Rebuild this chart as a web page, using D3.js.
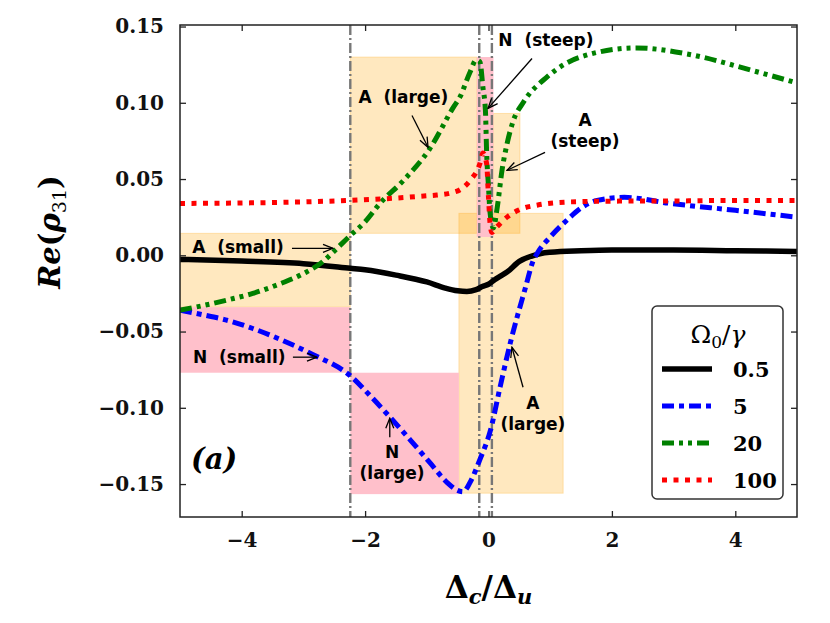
<!DOCTYPE html>
<html>
<head>
<meta charset="utf-8">
<script src="https://cdn.jsdelivr.net/npm/d3@7"></script>
<style>
  body { margin: 0; background: #fff; }
  svg { display: block; }
</style>
</head>
<body>
<div id="chart"></div>
<script>
// ---- data ----
const xTicks = [-4, -2, 0, 2, 4];
const yTicks = [-0.15, -0.10, -0.05, 0.00, 0.05, 0.10, 0.15];

const seriesNames = ["0.5", "5", "20", "100"];

const blackX = [-5, -4, -3, -2.24, -2, -1.5, -1, -0.7, -0.5, -0.35, -0.2, -0.1, 0, 0.1, 0.2, 0.3, 0.5, 0.7, 0.85, 1, 1.5, 2, 3, 4, 5];
const blackY = [-0.0027, -0.0038, -0.0055, -0.0085, -0.0095, -0.013, -0.0175, -0.0215, -0.0233, -0.0238, -0.0225, -0.0205, -0.019, -0.016, -0.0135, -0.011, -0.004, -0.0005, 0.0012, 0.002, 0.003, 0.0035, 0.0035, 0.003, 0.0025];

const blueX = [-5, -4.63, -4.2, -3.82, -3.27, -2.85, -2.24, -1.92, -1.6, -1.27, -0.95, -0.67, -0.51, -0.41, -0.3, -0.14, 0.03, 0.19, 0.35, 0.6, 0.72, 0.8, 1.0, 1.27, 1.5, 1.76, 2.2, 2.95, 4, 5];
const blueY = [-0.036, -0.039, -0.043, -0.048, -0.057, -0.065, -0.079, -0.092, -0.106, -0.121, -0.136, -0.149, -0.154, -0.155, -0.149, -0.134, -0.115, -0.086, -0.058, -0.021, -0.004, 0.002, 0.012, 0.023, 0.031, 0.036, 0.038, 0.034, 0.0295, 0.025];

const greenX = [-5, -4.63, -4.2, -3.82, -3.4, -3.0, -2.68, -2.52, -2.24, -2, -1.76, -1.38, -0.95, -0.57, -0.46, -0.3, -0.2, -0.14, -0.09, -0.05, -0.03, 0, 0.025, 0.08, 0.14, 0.22, 0.3, 0.4, 0.56, 0.95, 1.49, 2.4, 3.22, 4.29, 5];
const greenY = [-0.036, -0.033, -0.029, -0.025, -0.019, -0.012, -0.004, 0.002, 0.013, 0.022, 0.034, 0.049, 0.07, 0.097, 0.104, 0.12, 0.128, 0.127, 0.11, 0.095, 0.067, 0.045, 0.028, 0.018, 0.031, 0.056, 0.073, 0.088, 0.1, 0.117, 0.13, 0.136, 0.132, 0.121, 0.113];

const redX = [-5, -4, -3, -2.24, -1.5, -1, -0.84, -0.6, -0.46, -0.3, -0.14, -0.09, -0.03, 0, 0.025, 0.055, 0.135, 0.3, 0.48, 0.8, 1.32, 2, 3, 4, 5];
const redY = [0.034, 0.0343, 0.035, 0.036, 0.0375, 0.039, 0.0395, 0.041, 0.043, 0.049, 0.06, 0.067, 0.06, 0.038, 0.021, 0.015, 0.0186, 0.025, 0.0295, 0.033, 0.035, 0.0355, 0.0356, 0.036, 0.036];

// marked regions: [x0, x1, y0, y1]
const orangeBoxes = [
  [-5, -2.24, -0.034, 0.0144],
  [-2.24, -0.19, 0.0144, 0.13],
  [0.08, 0.51, 0.0144, 0.093],
  [-0.48, 1.21, -0.156, 0.0275]
];
const pinkBoxes = [
  [-0.19, 0.08, 0.012, 0.13],
  [-5, -2.24, -0.077, -0.034],
  [-2.24, -0.48, -0.1566, -0.077]
];
const vLines = [-2.24, -0.15, 0.055];

// annotations: text lines, text anchor point, arrow start, arrow end (data units)
const notes = [
  {lines: ["A (large)"], x: -1.38, y: 0.1035, from: [-1.24, 0.0917], to: [-0.98, 0.0708]},
  {lines: ["A (small)"], x: -4.06, y: 0.0052, from: [-3.185, 0.0046], to: [-2.52, 0.0046]},
  {lines: ["N (steep)"], x: 0.93, y: 0.141, from: [0.705, 0.129], to: [-0.008, 0.0963]},
  {lines: ["A", "(steep)"], x: 1.564, y: 0.0885, from: [0.916, 0.0675], to: [0.3, 0.0557]},
  {lines: ["N (small)"], x: -4.04, y: -0.0668, from: [-3.17, -0.0668], to: [-2.78, -0.0668]},
  {lines: ["N", "(large)"], x: -1.564, y: -0.129, from: [-1.6, -0.1193], to: [-1.6, -0.1068]},
  {lines: ["A", "(large)"], x: 0.72, y: -0.097, from: [0.56, -0.0865], to: [0.38, -0.0603]}
];

// ---- layout ----
const W = 830, H = 623;
const margin = {top: 25, right: 33, bottom: 106, left: 180};
const width = W - margin.left - margin.right;
const height = H - margin.top - margin.bottom;

const svg = d3.select("#chart").append("svg")
  .attr("width", W)
  .attr("height", H)
  .style("background", "#fff");

const g = svg.append("g")
  .attr("transform", `translate(${margin.left},${margin.top})`);

const x = d3.scaleLinear().domain([-5, 5]).range([0, width]);
const y = d3.scaleLinear().domain([-0.1716, 0.151]).range([height, 0]);

svg.append("defs").append("clipPath").attr("id", "clip")
  .append("rect").attr("width", width).attr("height", height);

svg.select("defs").append("marker")
  .attr("id", "arrow")
  .attr("viewBox", "0 0 12 10")
  .attr("refX", 11).attr("refY", 5)
  .attr("markerWidth", 12).attr("markerHeight", 10)
  .attr("markerUnits", "userSpaceOnUse")
  .attr("orient", "auto")
  .append("path")
  .attr("d", "M1,1 L11,5 L1,9")
  .attr("fill", "none")
  .attr("stroke", "#000")
  .attr("stroke-width", 1.3);

const plot = g.append("g").attr("clip-path", "url(#clip)");

// shaded boxes
plot.selectAll(".obox").data(orangeBoxes).enter().append("rect")
  .attr("x", d => x(d[0]))
  .attr("y", d => y(d[3]))
  .attr("width", d => x(d[1]) - x(d[0]))
  .attr("height", d => y(d[2]) - y(d[3]))
  .attr("fill", "orange")
  .attr("fill-opacity", 0.25)
  .attr("stroke", "orange")
  .attr("stroke-opacity", 0.25)
  .attr("stroke-width", 1);

plot.selectAll(".pbox").data(pinkBoxes).enter().append("rect")
  .attr("x", d => x(d[0]))
  .attr("y", d => y(d[3]))
  .attr("width", d => x(d[1]) - x(d[0]))
  .attr("height", d => y(d[2]) - y(d[3]))
  .attr("fill", "#ffc0cb");

// vertical markers
plot.selectAll(".vl").data(vLines).enter().append("line")
  .attr("x1", d => x(d)).attr("x2", d => x(d))
  .attr("y1", 0).attr("y2", height)
  .attr("stroke", "#777")
  .attr("stroke-width", 2.4)
  .attr("stroke-dasharray", "10,3,2,3");

// curves
const series = [
  {xs: blackX, ys: blackY, color: "#000", dash: null, w: 5.5},
  {xs: blueX, ys: blueY, color: "#0000ff", dash: "12,5,5,5", w: 5},
  {xs: greenX, ys: greenY, color: "#008000", dash: "12,5,4,5,4,5", w: 5},
  {xs: redX, ys: redY, color: "#ff0000", dash: "5,6.5", w: 5}
];

const line = d3.line()
  .x(d => x(d[0]))
  .y(d => y(d[1]))
  .curve(d3.curveMonotoneX);

series.forEach(s => {
  plot.append("path")
    .datum(d3.zip(s.xs, s.ys))
    .attr("d", line)
    .attr("fill", "none")
    .attr("stroke", s.color)
    .attr("stroke-width", s.w)
    .attr("stroke-dasharray", s.dash);
});

// annotations
notes.forEach(n => {
  const t = g.append("text")
    .attr("x", x(n.x))
    .attr("y", y(n.y))
    .attr("text-anchor", "middle")
    .attr("dominant-baseline", "central")
    .style("font-family", "'DejaVu Sans', sans-serif")
    .style("font-weight", "bold")
    .style("font-size", "17px");
  n.lines.forEach((l, i) => {
    t.append("tspan")
      .attr("x", x(n.x))
      .attr("dy", i === 0 ? 0 : 21)
      .text(l.replace(" ", "\u00a0\u00a0"));
  });
  g.append("line")
    .attr("x1", x(n.from[0])).attr("y1", y(n.from[1]))
    .attr("x2", x(n.to[0])).attr("y2", y(n.to[1]))
    .attr("stroke", "#000")
    .attr("stroke-width", 1.3)
    .attr("marker-end", "url(#arrow)");
});

// panel tag
g.append("text")
  .attr("x", 11)
  .attr("y", y(-0.14))
  .style("font-family", "'DejaVu Serif', serif")
  .style("font-style", "italic")
  .style("font-weight", "bold")
  .style("font-size", "29px")
  .text("(a)");

// axes with inward ticks on all sides
const fmtY = d => d3.format(".2f")(d).replace("-", "\u2212");
const fmtX = d => d3.format("d")(d).replace("-", "\u2212");

const axB = g.append("g").attr("transform", `translate(0,${height})`)
  .call(d3.axisBottom(x).tickValues(xTicks).tickSize(-6).tickPadding(16).tickFormat(fmtX));
const axT = g.append("g")
  .call(d3.axisTop(x).tickValues(xTicks).tickSize(-6).tickFormat(""));
const axL = g.append("g")
  .call(d3.axisLeft(y).tickValues(yTicks).tickSize(-6).tickPadding(16).tickFormat(fmtY));
const axR = g.append("g").attr("transform", `translate(${width},0)`)
  .call(d3.axisRight(y).tickValues(yTicks).tickSize(-6).tickFormat(""));

[axB, axT, axL, axR].forEach(a => {
  a.select(".domain").remove();
  a.selectAll(".tick line").attr("stroke", "#222").attr("stroke-width", 1.3);
  a.selectAll("text")
    .style("font-family", "'DejaVu Serif', serif")
    .style("font-weight", "bold")
    .style("font-size", "20px")
    .attr("fill", "#111");
});

g.append("rect")
  .attr("width", width).attr("height", height)
  .attr("fill", "none")
  .attr("stroke", "#222")
  .attr("stroke-width", 1.5);

// axis labels
const xl = svg.append("text")
  .attr("x", margin.left + width / 2)
  .attr("y", 598)
  .attr("text-anchor", "middle")
  .style("font-family", "'DejaVu Serif', serif")
  .style("font-weight", "bold")
  .style("font-size", "31px");
xl.append("tspan").text("\u0394");
xl.append("tspan").attr("font-style", "italic").attr("font-size", "21px").attr("dy", 6).text("c");
xl.append("tspan").attr("dy", -6).text("/\u0394");
xl.append("tspan").attr("font-style", "italic").attr("font-size", "21px").attr("dy", 6).text("u");

const yl = svg.append("text")
  .attr("transform", `translate(60,${232}) rotate(-90)`)
  .attr("text-anchor", "middle")
  .style("font-family", "'DejaVu Serif', serif")
  .style("font-weight", "bold")
  .style("font-size", "29px");
yl.append("tspan").attr("font-style", "italic").text("Re");
yl.append("tspan").text("(");
yl.append("tspan").attr("font-style", "italic").text("\u03c1");
yl.append("tspan").attr("font-size", "19px").attr("font-weight", "normal").attr("dy", 6).text("31");
yl.append("tspan").attr("dy", -6).text(")");

// legend
const leg = svg.append("g").attr("transform", "translate(652,306)");
leg.append("rect")
  .attr("width", 131).attr("height", 193)
  .attr("rx", 5)
  .attr("fill", "#fff")
  .attr("stroke", "#333")
  .attr("stroke-width", 1.5);

const lt = leg.append("text")
  .attr("x", 66).attr("y", 37)
  .attr("text-anchor", "middle")
  .style("font-family", "'DejaVu Serif', serif")
  .style("font-size", "25px");
lt.append("tspan").text("\u03a9");
lt.append("tspan").attr("font-size", "17px").attr("dy", 5).text("0");
lt.append("tspan").attr("dy", -5).text("/");
lt.append("tspan").attr("font-style", "italic").text("\u03b3");

const rowY = d3.scalePoint().domain(seriesNames).range([63, 174]);

seriesNames.forEach((name, i) => {
  const s = series[i];
  leg.append("line")
    .attr("x1", 10).attr("x2", 60)
    .attr("y1", rowY(name)).attr("y2", rowY(name))
    .attr("stroke", s.color)
    .attr("stroke-width", s.w)
    .attr("stroke-dasharray", s.dash);
  leg.append("text")
    .attr("x", 81).attr("y", rowY(name))
    .attr("dominant-baseline", "central")
    .style("font-family", "'DejaVu Serif', serif")
    .style("font-weight", "bold")
    .style("font-size", "21px")
    .text(name);
});
</script>
</body>
</html>
